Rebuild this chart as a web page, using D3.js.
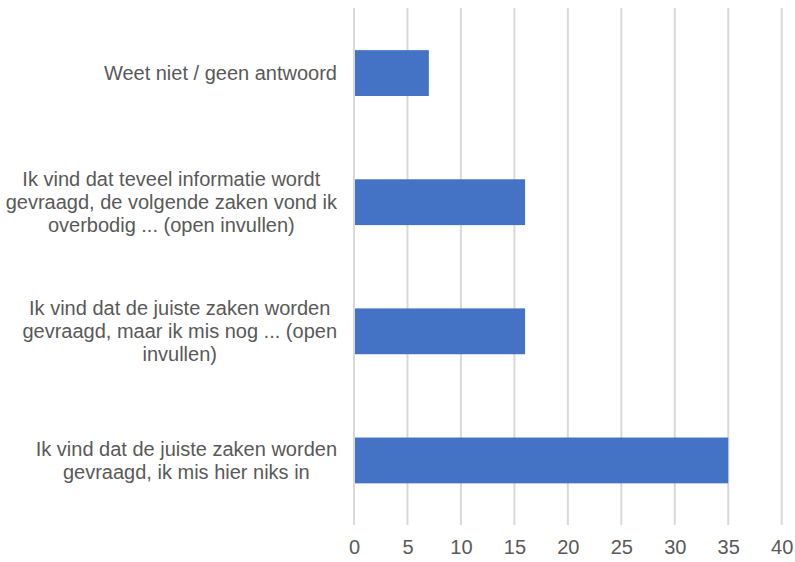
<!DOCTYPE html>
<html>
<head>
<meta charset="utf-8">
<script src="https://cdn.jsdelivr.net/npm/d3@7"></script>
<style>
  body { margin: 0; background: #fff; }
  svg { display: block; }
</style>
</head>
<body>
<svg id="chart" width="795" height="562"></svg>
<script>
// categories (top to bottom) with label lines as in the picture
var categories = [
  "Weet niet / geen antwoord",
  "Ik vind dat teveel informatie wordt gevraagd, de volgende zaken vond ik overbodig ... (open invullen)",
  "Ik vind dat de juiste zaken worden gevraagd, maar ik mis nog ... (open invullen)",
  "Ik vind dat de juiste zaken worden gevraagd, ik mis hier niks in"
];
var labelLines = [
  ["Weet niet / geen antwoord"],
  ["Ik vind dat teveel informatie wordt", "gevraagd, de volgende zaken vond ik", "overbodig ... (open invullen)"],
  ["Ik vind dat de juiste zaken worden", "gevraagd, maar ik mis nog ... (open", "invullen)"],
  ["Ik vind dat de juiste zaken worden", "gevraagd, ik mis hier niks in"]
];
var values = [7, 16, 16, 35];
var ticks = [0, 5, 10, 15, 20, 25, 30, 35, 40];

var svg = d3.select("#chart");
var fontFamily = "'Liberation Sans', Arial, sans-serif";

var x = d3.scaleLinear().domain([0, 40]).range([354, 781.7]);
var y = d3.scaleBand().domain(categories).range([8.5, 525]).paddingInner(0.645).paddingOuter(0.3225);

// gridlines
svg.append("g").selectAll("line")
  .data(ticks)
  .enter().append("line")
  .attr("x1", function(d){ return x(d); })
  .attr("x2", function(d){ return x(d); })
  .attr("y1", 8)
  .attr("y2", 525)
  .attr("stroke", "#d9d9d9")
  .attr("stroke-width", 2);

// bars
svg.append("g").selectAll("rect")
  .data(values)
  .enter().append("rect")
  .attr("x", x(0) + 1)
  .attr("y", function(d, i){ return y(categories[i]); })
  .attr("width", function(d){ return x(d) - x(0) - 1; })
  .attr("height", y.bandwidth())
  .attr("fill", "#4472c4");

// x axis tick labels
var xAxis = d3.axisBottom(x).tickValues(ticks).tickSize(0).tickPadding(0);
var ax = svg.append("g")
  .attr("transform", "translate(0,540)")
  .call(xAxis);
ax.select(".domain").remove();
ax.selectAll("text")
  .attr("fill", "#595959")
  .attr("font-family", fontFamily)
  .attr("font-size", "20px");

// category labels: block right-aligned against the axis, lines centred inside
var lineH = 23;
var labelRight = 337;
var lab = svg.append("g").selectAll("text")
  .data(labelLines)
  .enter().append("text")
  .attr("text-anchor", "middle")
  .attr("fill", "#595959")
  .attr("font-family", fontFamily)
  .attr("font-size", "20px");
lab.selectAll("tspan")
  .data(function(d){ return d; })
  .enter().append("tspan")
  .attr("x", 0)
  .attr("y", function(d, j){ return j * lineH; })
  .attr("dy", "0.35em")
  .text(function(d){ return d; });
lab.attr("transform", function(d, i){
  var maxW = 0;
  d3.select(this).selectAll("tspan").each(function(){
    maxW = Math.max(maxW, this.getComputedTextLength());
  });
  var cy = y(categories[i]) + y.bandwidth() / 2;
  return "translate(" + (labelRight - maxW / 2) + "," + (cy - (d.length - 1) * lineH / 2) + ")";
});
</script>
</body>
</html>
